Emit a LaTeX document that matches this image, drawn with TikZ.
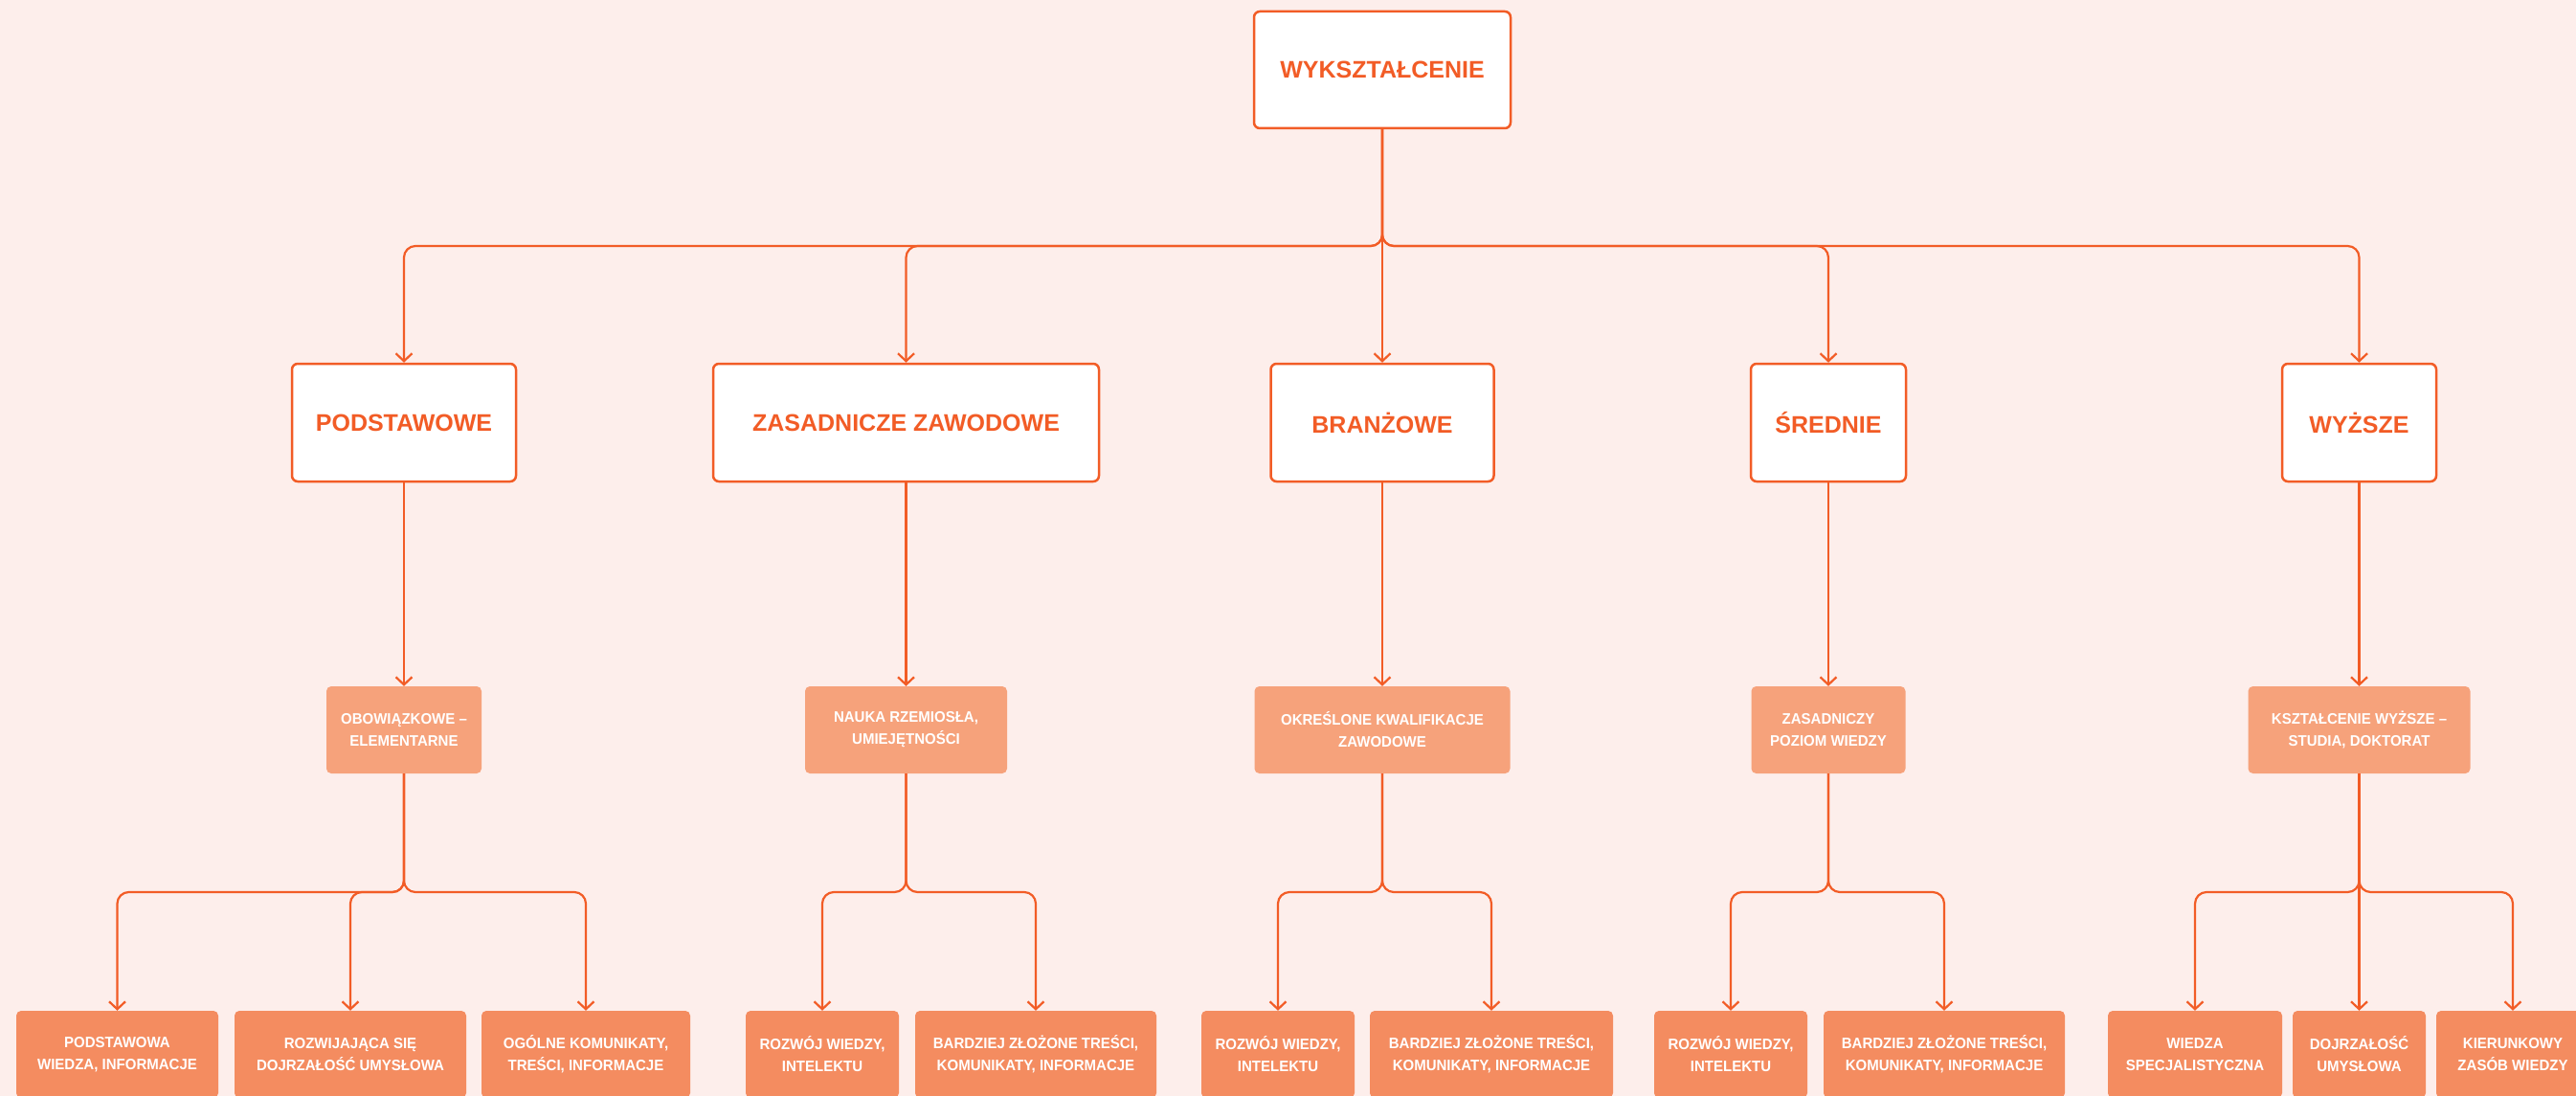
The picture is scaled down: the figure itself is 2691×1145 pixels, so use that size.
\documentclass[tikz,border=0pt]{standalone}
\usepackage{fontspec}
\setmainfont{Liberation Sans}
\newfontfamily\narrowfont[FakeStretch=0.95]{Liberation Sans}
\usetikzlibrary{arrows.meta}
\definecolor{bgc}{HTML}{FDEEEB}
\definecolor{orng}{HTML}{F25C26}
\definecolor{lvtwo}{HTML}{F6A27B}
\definecolor{lvthree}{HTML}{F48C60}
\tikzset{
  topbox/.style={draw=orng, line width=2.5pt, fill=white, rounded corners=6pt, text=orng,
    font=\bfseries\fontsize{25}{30}\selectfont, inner sep=0pt, minimum height=123pt, align=center},
  midbox/.style={fill=lvtwo, rounded corners=5pt, text=white, inner sep=0pt,
    font=\narrowfont\bfseries\fontsize{15.8}{23}\selectfont, align=center, minimum height=91pt},
  lowbox/.style={fill=lvthree, rounded corners=5pt, text=white, inner sep=0pt,
    font=\narrowfont\bfseries\fontsize{15.8}{23}\selectfont, align=center, minimum height=91pt},
  conn/.style={draw=orng, line width=2.2pt, rounded corners=12pt,
    -{Straight Barb[length=8pt,width=17pt,line width=2.2pt]}},
}
\begin{document}
\begin{tikzpicture}[x=1pt,y=-1pt]
\useasboundingbox (0,0) rectangle (2691,1145);
\clip (0,0) rectangle (2691,1145);
\fill[bgc] (0,0) rectangle (2691,1145);

% top
\node[topbox, minimum width=268pt, minimum height=122pt] (top) at (1444,73) {WYKSZTAŁCENIE};

% level 1
\node[topbox, minimum width=234pt] (p1) at (422,441.5) {PODSTAWOWE};
\node[topbox, minimum width=403pt] (p2) at (946.5,441.5) {ZASADNICZE ZAWODOWE};
\node[topbox, minimum width=233pt] (p3) at (1444,441.5) {BRANŻOWE};
\node[topbox, minimum width=162pt] (p4) at (1910,441.5) {ŚREDNIE};
\node[topbox, minimum width=161pt] (p5) at (2464.5,441.5) {WYŻSZE};

% level 2
\node[midbox, minimum width=162pt] (q1) at (422,762.5) {OBOWIĄZKOWE –\\ELEMENTARNE};
\node[midbox, minimum width=211pt] (q2) at (946.5,762.5) {NAUKA RZEMIOSŁA,\\UMIEJĘTNOŚCI};
\node[midbox, minimum width=267pt] (q3) at (1444,762.5) {OKREŚLONE KWALIFIKACJE\\ZAWODOWE};
\node[midbox, minimum width=161pt] (q4) at (1910,762.5) {ZASADNICZY\\POZIOM WIEDZY};
\node[midbox, minimum width=232pt] (q5) at (2464.5,762.5) {KSZTAŁCENIE WYŻSZE –\\STUDIA, DOKTORAT};

% level 3
\node[lowbox, minimum width=211pt] (r11) at (122.5,1101.5) {PODSTAWOWA\\WIEDZA, INFORMACJE};
\node[lowbox, minimum width=242pt] (r12) at (366,1101.5) {ROZWIJAJĄCA SIĘ\\DOJRZAŁOŚĆ UMYSŁOWA};
\node[lowbox, minimum width=218pt] (r13) at (612,1101.5) {OGÓLNE KOMUNIKATY,\\TREŚCI, INFORMACJE};
\node[lowbox, minimum width=160pt] (r21) at (859,1101.5) {ROZWÓJ WIEDZY,\\INTELEKTU};
\node[lowbox, minimum width=252pt] (r22) at (1082,1101.5) {BARDZIEJ ZŁOŻONE TREŚCI,\\KOMUNIKATY, INFORMACJE};
\node[lowbox, minimum width=160pt] (r31) at (1335,1101.5) {ROZWÓJ WIEDZY,\\INTELEKTU};
\node[lowbox, minimum width=254pt] (r32) at (1558,1101.5) {BARDZIEJ ZŁOŻONE TREŚCI,\\KOMUNIKATY, INFORMACJE};
\node[lowbox, minimum width=160pt] (r41) at (1808,1101.5) {ROZWÓJ WIEDZY,\\INTELEKTU};
\node[lowbox, minimum width=252pt] (r42) at (2031,1101.5) {BARDZIEJ ZŁOŻONE TREŚCI,\\KOMUNIKATY, INFORMACJE};
\node[lowbox, minimum width=182pt] (r51) at (2293,1101.5) {WIEDZA\\SPECJALISTYCZNA};
\node[lowbox, minimum width=139pt] (r52) at (2464.5,1101.5) {DOJRZAŁOŚĆ\\UMYSŁOWA};
\node[lowbox, minimum width=160pt] (r53) at (2625,1101.5) {KIERUNKOWY\\ZASÓB WIEDZY};

% bus coordinates
\coordinate (b0) at (1444,257);
\coordinate (b1) at (422,932);
\coordinate (b2) at (946.5,932);
\coordinate (b3) at (1444,932);
\coordinate (b4) at (1910,932);
\coordinate (b5) at (2464.5,932);

% top -> level 1
\draw[conn] (top.south) |- (p1.north |- b0) -- (p1.north);
\draw[conn] (top.south) |- (p2.north |- b0) -- (p2.north);
\draw[conn] (top.south) -- (p3.north);
\draw[conn] (top.south) |- (p4.north |- b0) -- (p4.north);
\draw[conn] (top.south) |- (p5.north |- b0) -- (p5.north);

% level 1 -> level 2
\draw[conn] (p1.south) -- (q1.north);
\draw[conn] (p2.south) -- (q2.north);
\draw[conn] (p3.south) -- (q3.north);
\draw[conn] (p4.south) -- (q4.north);
\draw[conn] (p5.south) -- (q5.north);

% level 2 -> level 3
\draw[conn] (q1.south) |- (r11.north |- b1) -- (r11.north);
\draw[conn] (q1.south) |- (r12.north |- b1) -- (r12.north);
\draw[conn] (q1.south) |- (r13.north |- b1) -- (r13.north);
\draw[conn] (q2.south) |- (r21.north |- b2) -- (r21.north);
\draw[conn] (q2.south) |- (r22.north |- b2) -- (r22.north);
\draw[conn] (q3.south) |- (r31.north |- b3) -- (r31.north);
\draw[conn] (q3.south) |- (r32.north |- b3) -- (r32.north);
\draw[conn] (q4.south) |- (r41.north |- b4) -- (r41.north);
\draw[conn] (q4.south) |- (r42.north |- b4) -- (r42.north);
\draw[conn] (q5.south) |- (r51.north |- b5) -- (r51.north);
\draw[conn] (q5.south) -- (r52.north);
\draw[conn] (q5.south) |- (r53.north |- b5) -- (r53.north);
\end{tikzpicture}
\end{document}
